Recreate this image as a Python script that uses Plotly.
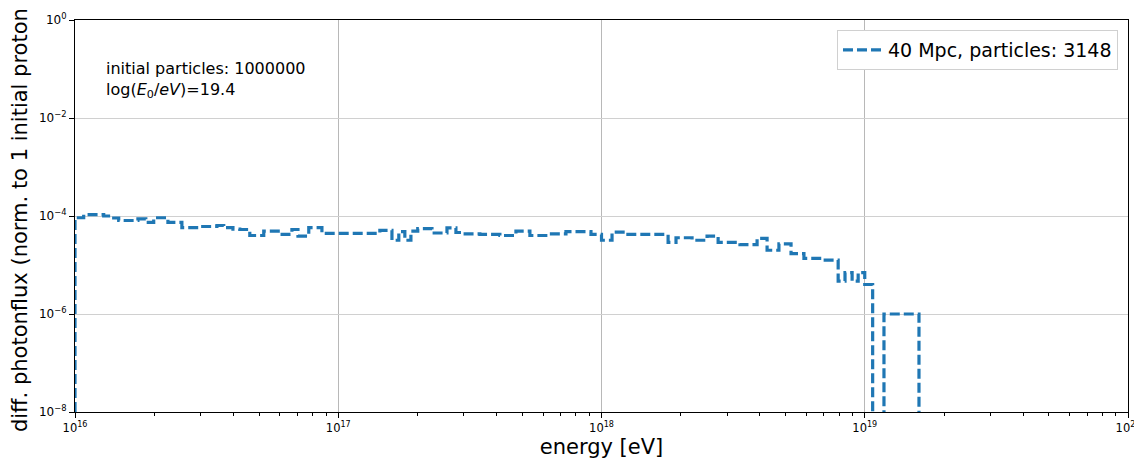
import plotly.graph_objects as go

# Histogram bin edges (log10 of energy in eV) and differential photon flux per bin
log_edges = [16.000, 16.033, 16.109, 16.136, 16.166, 16.239, 16.269, 16.299, 16.353,
             16.406, 16.474, 16.539, 16.565, 16.600, 16.626, 16.664, 16.717, 16.778,
             16.824, 16.847, 16.888, 16.938, 17.158, 17.204, 17.230, 17.253, 17.276,
             17.302, 17.356, 17.413, 17.447, 17.474, 17.538, 17.614, 17.675, 17.728,
             17.797, 17.865, 17.960, 18.000, 18.040, 18.089, 18.253, 18.283, 18.344,
             18.401, 18.443, 18.526, 18.591, 18.629, 18.674, 18.720, 18.769, 18.842,
             18.899, 18.925, 18.952, 18.975, 19.000, 19.030, 19.073, 19.206, 20.000]
flux = [0.92e-4, 1.07e-4, 1.00e-4, 0.91e-4, 0.81e-4, 0.87e-4, 0.74e-4, 0.92e-4,
        0.74e-4, 0.58e-4, 0.61e-4, 0.64e-4, 0.58e-4, 0.54e-4, 0.53e-4, 0.40e-4,
        0.49e-4, 0.42e-4, 0.53e-4, 0.39e-4, 0.58e-4, 0.44e-4, 0.51e-4, 0.32e-4,
        0.48e-4, 0.32e-4, 0.49e-4, 0.55e-4, 0.45e-4, 0.57e-4, 0.46e-4, 0.43e-4,
        0.42e-4, 0.40e-4, 0.49e-4, 0.40e-4, 0.43e-4, 0.48e-4, 0.42e-4, 0.32e-4,
        0.47e-4, 0.42e-4, 0.29e-4, 0.36e-4, 0.32e-4, 0.39e-4, 0.29e-4, 0.26e-4,
        0.35e-4, 0.20e-4, 0.27e-4, 0.17e-4, 0.136e-4, 0.126e-4, 4.7e-6, 7.0e-6,
        4.7e-6, 7.0e-6, 4.0e-6, 0.0, 1.0e-6, 0.0]

x_tick_exps = [16, 17, 18, 19, 20]
y_tick_exps = [0, -2, -4, -6, -8]

series_name = "40 Mpc, particles: 3148"
info_lines = ["initial particles: 1000000", "log(<i>E</i><sub>0</sub>/<i>eV</i>)=19.4"]

FLOOR = 1e-12  # empty bins drawn below the visible axis range
xs = [10.0 ** e for e in log_edges]
ys = [v if v > 0 else FLOOR for v in flux]
x_pts = [xs[0]] + xs
y_pts = [FLOOR] + ys + [ys[-1]]

font = "DejaVu Sans, Verdana, sans-serif"

fig = go.Figure()
fig.add_trace(go.Scatter(
    x=x_pts, y=y_pts, mode="lines", line_shape="hv",
    line=dict(color="#1f77b4", width=3.2, dash="10px,4px"),
    name=series_name, showlegend=True))

minor_x = [m * 10.0 ** e for e in x_tick_exps[:-1] for m in range(2, 10)]

# page has an 8px body margin; size the figure so it fits inside the 1142x462 window
fig.update_layout(
    width=1134, height=454,
    margin=dict(l=67, r=14, t=12, b=50, autoexpand=False),
    paper_bgcolor="white", plot_bgcolor="white",
    font=dict(family=font, size=12, color="black"),
    showlegend=True,
    legend=dict(x=0.9905, y=0.9745, xanchor="right", yanchor="top",
                bgcolor="white", bordercolor="#d0d0d0", borderwidth=1,
                font=dict(size=19), itemwidth=40),
    xaxis=dict(
        type="log", range=[16, 20], automargin=False,
        tickmode="array", tickvals=[10.0 ** e for e in x_tick_exps],
        ticktext=["10<sup>%d</sup>" % e for e in x_tick_exps],
        ticks="outside", ticklen=5, tickcolor="black",
        showline=True, linecolor="black", linewidth=1, mirror=True,
        showgrid=True, gridcolor="#b8b8b8", gridwidth=1,
        zeroline=False,
        minor=dict(tickmode="array", tickvals=minor_x, ticks="outside",
                   ticklen=3, tickcolor="black", showgrid=False),
        title=dict(text="energy [eV]", font=dict(size=21), standoff=4),
        tickfont=dict(size=11.5),
    ),
    yaxis=dict(
        type="log", range=[-8, 0], automargin=False,
        tickmode="array", tickvals=[10.0 ** e for e in y_tick_exps],
        ticktext=["10<sup>%s</sup>" % (str(e).replace("-", "\u2212")) for e in y_tick_exps],
        ticks="outside", ticklen=5, tickcolor="black",
        showline=True, linecolor="black", linewidth=1, mirror=True,
        showgrid=True, gridcolor="#d0d0d0", gridwidth=1,
        zeroline=False,
        title=dict(text="diff. photonflux (norm. to 1 initial proton)", font=dict(size=21), standoff=8),
        tickfont=dict(size=12),
    ),
    annotations=[dict(
        x=0.028, y=0.905, xref="paper", yref="paper",
        xanchor="left", yanchor="top", align="left", showarrow=False,
        text="<br>".join(info_lines), font=dict(size=16, color="black"))],
)

fig.write_html("out.html")
